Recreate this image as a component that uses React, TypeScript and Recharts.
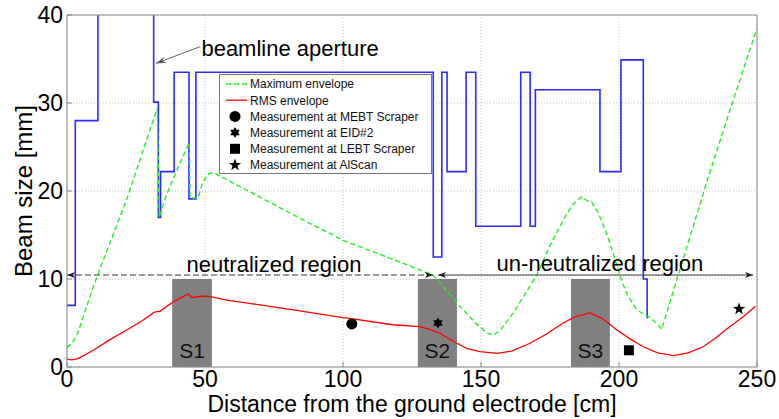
import {
  ComposedChart,
  Line,
  Scatter,
  XAxis,
  YAxis,
  CartesianGrid,
  ReferenceArea,
  ReferenceLine,
  ReferenceDot,
  Legend,
} from "recharts";

// beamline aperture (step profile, value holds until next z)
const apertureZ = [0, 3, 11.2, 31.4, 33.1, 33.9, 38.8, 44.2, 46.7, 132.7, 135.8, 137.7, 144.6, 148.1, 164.4, 167.8, 169.7, 193.1, 200.7, 208.8, 210.2];
const apertureR = [7, 28, 45, 30.1, 17, 22.2, 33.5, 19.1, 33.5, 12.5, 33.5, 22.2, 33.5, 16, 33.5, 16, 31.5, 22.2, 34.9, 10, 5.5];

// maximum envelope
const maxZ = [0, 1.5, 3.6, 6, 9.5, 13.2, 21.6, 27, 32.7, 33.4, 36, 40, 44.3, 44.6, 47.5, 49, 51, 53, 56, 66.3, 84.4, 100, 115.9, 132.6, 138, 143.5, 148, 152, 154.4, 157, 161.6, 165, 170.2, 175, 179.8, 183, 186.5, 188.3, 190, 192.5, 195.5, 198, 200.4, 203, 206.4, 211.2, 213.5, 215.5, 222, 231.8, 240, 250];
const maxR = [2.2, 2.6, 3.6, 5.8, 9.1, 12.2, 19, 24.1, 29.4, 17, 19.5, 22.5, 25.5, 19.2, 19.2, 20.8, 21.9, 22.1, 21.6, 19.9, 16.9, 14.4, 12.5, 10.45, 8.5, 6.5, 5, 3.9, 3.6, 4.2, 6.1, 7.8, 10.45, 13.8, 16.7, 18.4, 19.35, 18.9, 18.8, 17.5, 15.2, 12.8, 10.3, 8.2, 6.5, 5.6, 5.0, 4.3, 11, 21, 29, 38.5];

// RMS envelope
const rmsZ = [0, 1.7, 4, 6, 9.5, 15, 21.6, 27, 31.5, 32.5, 33.5, 38.5, 43.9, 45.2, 49.3, 52, 57.9, 70, 82, 100, 103, 118, 127.9, 131, 135.1, 138, 141.2, 145, 149.6, 155.7, 161, 167.8, 174, 179.8, 184, 189.5, 194, 199.2, 204, 208.8, 214, 219.7, 225, 230.5, 235, 240.2, 245, 249.5];
const rmsR = [0.9, 0.8, 0.95, 1.3, 1.9, 3.0, 4.2, 5.2, 6.2, 6.3, 6.3, 7.4, 8.3, 7.9, 8.07, 8.0, 7.6, 7.05, 6.5, 5.6, 5.5, 4.8, 4.58, 4.3, 3.85, 3.3, 2.7, 2.1, 1.74, 1.55, 1.8, 2.7, 3.8, 5.0, 5.7, 6.15, 5.5, 4.2, 3.2, 2.3, 1.6, 1.3, 1.6, 2.3, 3.3, 4.6, 5.7, 6.9];

// measurements
const mebtPoint = [{ x: 103.2, y: 4.9 }];
const eidPoint = [{ x: 134.4, y: 5.0 }];
const lebtPoint = [{ x: 203.6, y: 1.9 }];
const allisonPoint = [{ x: 243.5, y: 6.6 }];

// shaded regions S1..S3
const shieldNames = ["S1", "S2", "S3"];
const shieldStart = [38.1, 127.1, 182.6];
const shieldEnd = [52.5, 141.3, 196.7];
const shieldTop = 10;

const xTicks = [0, 50, 100, 150, 200, 250];
const yTicks = [0, 10, 20, 30, 40];

const legendLabels = [
  "Maximum envelope",
  "RMS envelope",
  "Measurement at MEBT Scraper",
  "Measurement at EID#2",
  "Measurement at LEBT Scraper",
  "Measurement at AlScan",
];

const xTitle = "Distance from the ground electrode [cm]";
const yTitle = "Beam size [mm]";

// annotations: text, z, value
const noteText = ["beamline aperture", "neutralized region", "un-neutralized region"];
const noteX = [48.7, 75, 193.1];
const noteY = [35.34, 10.85, 10.95];
const noteAnchor = ["start", "middle", "middle"];
const regionLineY = 10.45;
const neutralEnd = 132.6;
const unneutralStart = 134.4;
const unneutralEnd = 248.6;
const apertureArrow = [{ x: 48.2, y: 36.4 }, { x: 32.2, y: 34.5 }];

const toPoints = (xs: number[], ys: number[]) => xs.map((x, i) => ({ x, y: ys[i] }));
const apertureData = toPoints(apertureZ, apertureR);
const maxData = toPoints(maxZ, maxR);
const rmsData = toPoints(rmsZ, rmsR);

const W = 779;
const H = 419;
const FONT = "'Liberation Sans', Arial, Helvetica, sans-serif";

const circleShape = (p: any) => <circle cx={p.cx} cy={p.cy} r={5.5} fill="#000" />;
const squareShape = (p: any) => <rect x={p.cx - 5} y={p.cy - 5} width={10} height={10} fill="#000" />;

function starPath(cx: number, cy: number, n: number, ro: number, ri: number) {
  const pts: string[] = [];
  for (let i = 0; i < n * 2; i++) {
    const r = i % 2 === 0 ? ro : ri;
    const a = -Math.PI / 2 + (i * Math.PI) / n;
    pts.push(`${(cx + r * Math.cos(a)).toFixed(2)},${(cy + r * Math.sin(a)).toFixed(2)}`);
  }
  return "M" + pts.join("L") + "Z";
}
const hexShape = (p: any) => <path d={starPath(p.cx, p.cy, 6, 5.5, 3.2)} fill="#000" />;
const starShape = (p: any) => <path d={starPath(p.cx, p.cy, 5, 6.5, 2.6)} fill="#000" />;

function Note(props: any) {
  const { viewBox, text, anchor } = props;
  return (
    <text x={viewBox.x} y={viewBox.y} textAnchor={anchor} fontSize={22} fill="#000">
      {text}
    </text>
  );
}

function YTitle(props: any) {
  const { viewBox } = props;
  const cy = viewBox.y + viewBox.height / 2;
  const x = 32;
  return (
    <text x={x} y={cy} transform={`rotate(-90 ${x} ${cy})`} textAnchor="middle" fontSize={24} fill="#000">
      {yTitle}
    </text>
  );
}

function XTitle(props: any) {
  const { viewBox } = props;
  return (
    <text x={viewBox.x + viewBox.width / 2} y={viewBox.y + 45} textAnchor="middle" fontSize={23} fill="#000">
      {xTitle}
    </text>
  );
}

const arrowLine = (start: string | undefined, end: string | undefined) => (p: any) =>
  (
    <line
      x1={p.x1}
      y1={p.y1}
      x2={p.x2}
      y2={p.y2}
      stroke={p.stroke}
      strokeWidth={1}
      strokeDasharray={p.strokeDasharray}
      markerStart={start}
      markerEnd={end}
    />
  );

function LegendBox() {
  const row = 16.2;
  return (
    <svg width={213} height={100} style={{ display: "block", fontFamily: FONT }}>
      <rect x={0.5} y={0.5} width={212} height={99} fill="#fff" stroke="#777" />
      {legendLabels.map((t, i) => {
        const y = 10 + i * row;
        let sym = null;
        if (i === 0) sym = <line x1={7} y1={y} x2={28} y2={y} stroke="#22ee22" strokeWidth={1.3} strokeDasharray="5 3" />;
        if (i === 1) sym = <line x1={7} y1={y} x2={28} y2={y} stroke="#ff0000" strokeWidth={1.3} />;
        if (i === 2) sym = circleShape({ cx: 16, cy: y });
        if (i === 3) sym = hexShape({ cx: 16, cy: y });
        if (i === 4) sym = squareShape({ cx: 16, cy: y });
        if (i === 5) sym = starShape({ cx: 16, cy: y });
        return (
          <g key={t}>
            {sym}
            <text x={31} y={y + 4.3} fontSize={12} fill="#111">
              {t}
            </text>
          </g>
        );
      })}
    </svg>
  );
}

export default function App() {
  return (
    <div style={{ position: "absolute", left: 0, top: 0, width: W, height: H, background: "#fff", fontFamily: FONT }}>
      <ComposedChart width={W} height={H} margin={{ top: 14, right: 21, bottom: 0, left: 0 }}>
        <defs>
          <marker id="head" viewBox="0 0 8 6" refX={8} refY={3} markerWidth={8} markerHeight={6} markerUnits="userSpaceOnUse" orient="auto-start-reverse">
            <path d="M0,0 L8,3 L0,6 L2,3 Z" fill="#222" />
          </marker>
          <marker id="thin" viewBox="0 0 10 6" refX={10} refY={3} markerWidth={10} markerHeight={6} markerUnits="userSpaceOnUse" orient="auto">
            <path d="M0,0 L10,3 L0,6 L3,3 Z" fill="#555" />
          </marker>
        </defs>
        <CartesianGrid stroke="#c4c4c4" strokeDasharray="1 2" />
        <XAxis
          dataKey="x"
          type="number"
          domain={[0, 250]}
          ticks={xTicks}
          allowDataOverflow
          height={52}
          stroke="#888"
          tickSize={-5}
          tickMargin={9}
          tick={{ fill: "#000", fontSize: 23 }}
          label={<XTitle />}
        />
        <XAxis xAxisId="top" orientation="top" type="number" domain={[0, 250]} ticks={xTicks} height={1} stroke="#888" tickSize={-5} tick={false} />
        <YAxis
          type="number"
          domain={[0, 40]}
          ticks={yTicks}
          allowDataOverflow
          width={67}
          stroke="#888"
          tickSize={-5}
          tickMargin={9}
          tick={{ fill: "#000", fontSize: 23 }}
          label={<YTitle />}
        />
        <YAxis yAxisId="right" orientation="right" type="number" domain={[0, 40]} ticks={yTicks} width={1} stroke="#888" tickSize={-5} tick={false} />

        {shieldNames.map((s, i) => (
          <ReferenceArea
            key={s}
            x1={shieldStart[i]}
            x2={shieldEnd[i]}
            y1={0}
            y2={shieldTop}
            fill="#808080"
            fillOpacity={1}
            stroke="none"
            label={{ value: s, position: "insideBottom", offset: 9, fontSize: 21, fill: "#111" }}
          />
        ))}

        <Line data={apertureData} dataKey="y" type="stepAfter" stroke="#2b2bff" strokeWidth={1.6} dot={false} isAnimationActive={false} />
        <Line data={maxData} dataKey="y" type="linear" stroke="#22ee22" strokeWidth={1.4} strokeDasharray="5 3" dot={false} isAnimationActive={false} />
        <Line data={rmsData} dataKey="y" type="linear" stroke="#ff0000" strokeWidth={1.3} dot={false} isAnimationActive={false} />

        <Scatter data={mebtPoint} dataKey="y" shape={circleShape} isAnimationActive={false} />
        <Scatter data={eidPoint} dataKey="y" shape={hexShape} isAnimationActive={false} />
        <Scatter data={lebtPoint} dataKey="y" shape={squareShape} isAnimationActive={false} />
        <Scatter data={allisonPoint} dataKey="y" shape={starShape} isAnimationActive={false} />

        <ReferenceLine
          segment={[{ x: 0, y: regionLineY }, { x: neutralEnd, y: regionLineY }]}
          stroke="#333"
          strokeDasharray="6 3"
          shape={arrowLine("url(#head)", "url(#head)")}
        />
        <ReferenceLine
          segment={[{ x: unneutralStart, y: regionLineY }, { x: unneutralEnd, y: regionLineY }]}
          stroke="#333"
          shape={arrowLine("url(#head)", "url(#head)")}
        />
        <ReferenceLine segment={apertureArrow} stroke="#666" shape={arrowLine(undefined, "url(#thin)")} />

        {noteText.map((t, i) => (
          <ReferenceDot key={t} x={noteX[i]} y={noteY[i]} r={0} fill="none" stroke="none" label={<Note text={t} anchor={noteAnchor[i]} />} />
        ))}

        <Legend
          layout="horizontal"
          verticalAlign="middle"
          align="center"
          content={() => <LegendBox />}
          wrapperStyle={{ left: 219, top: 74, width: 213, height: 100, lineHeight: 0 }}
        />
      </ComposedChart>
    </div>
  );
}
